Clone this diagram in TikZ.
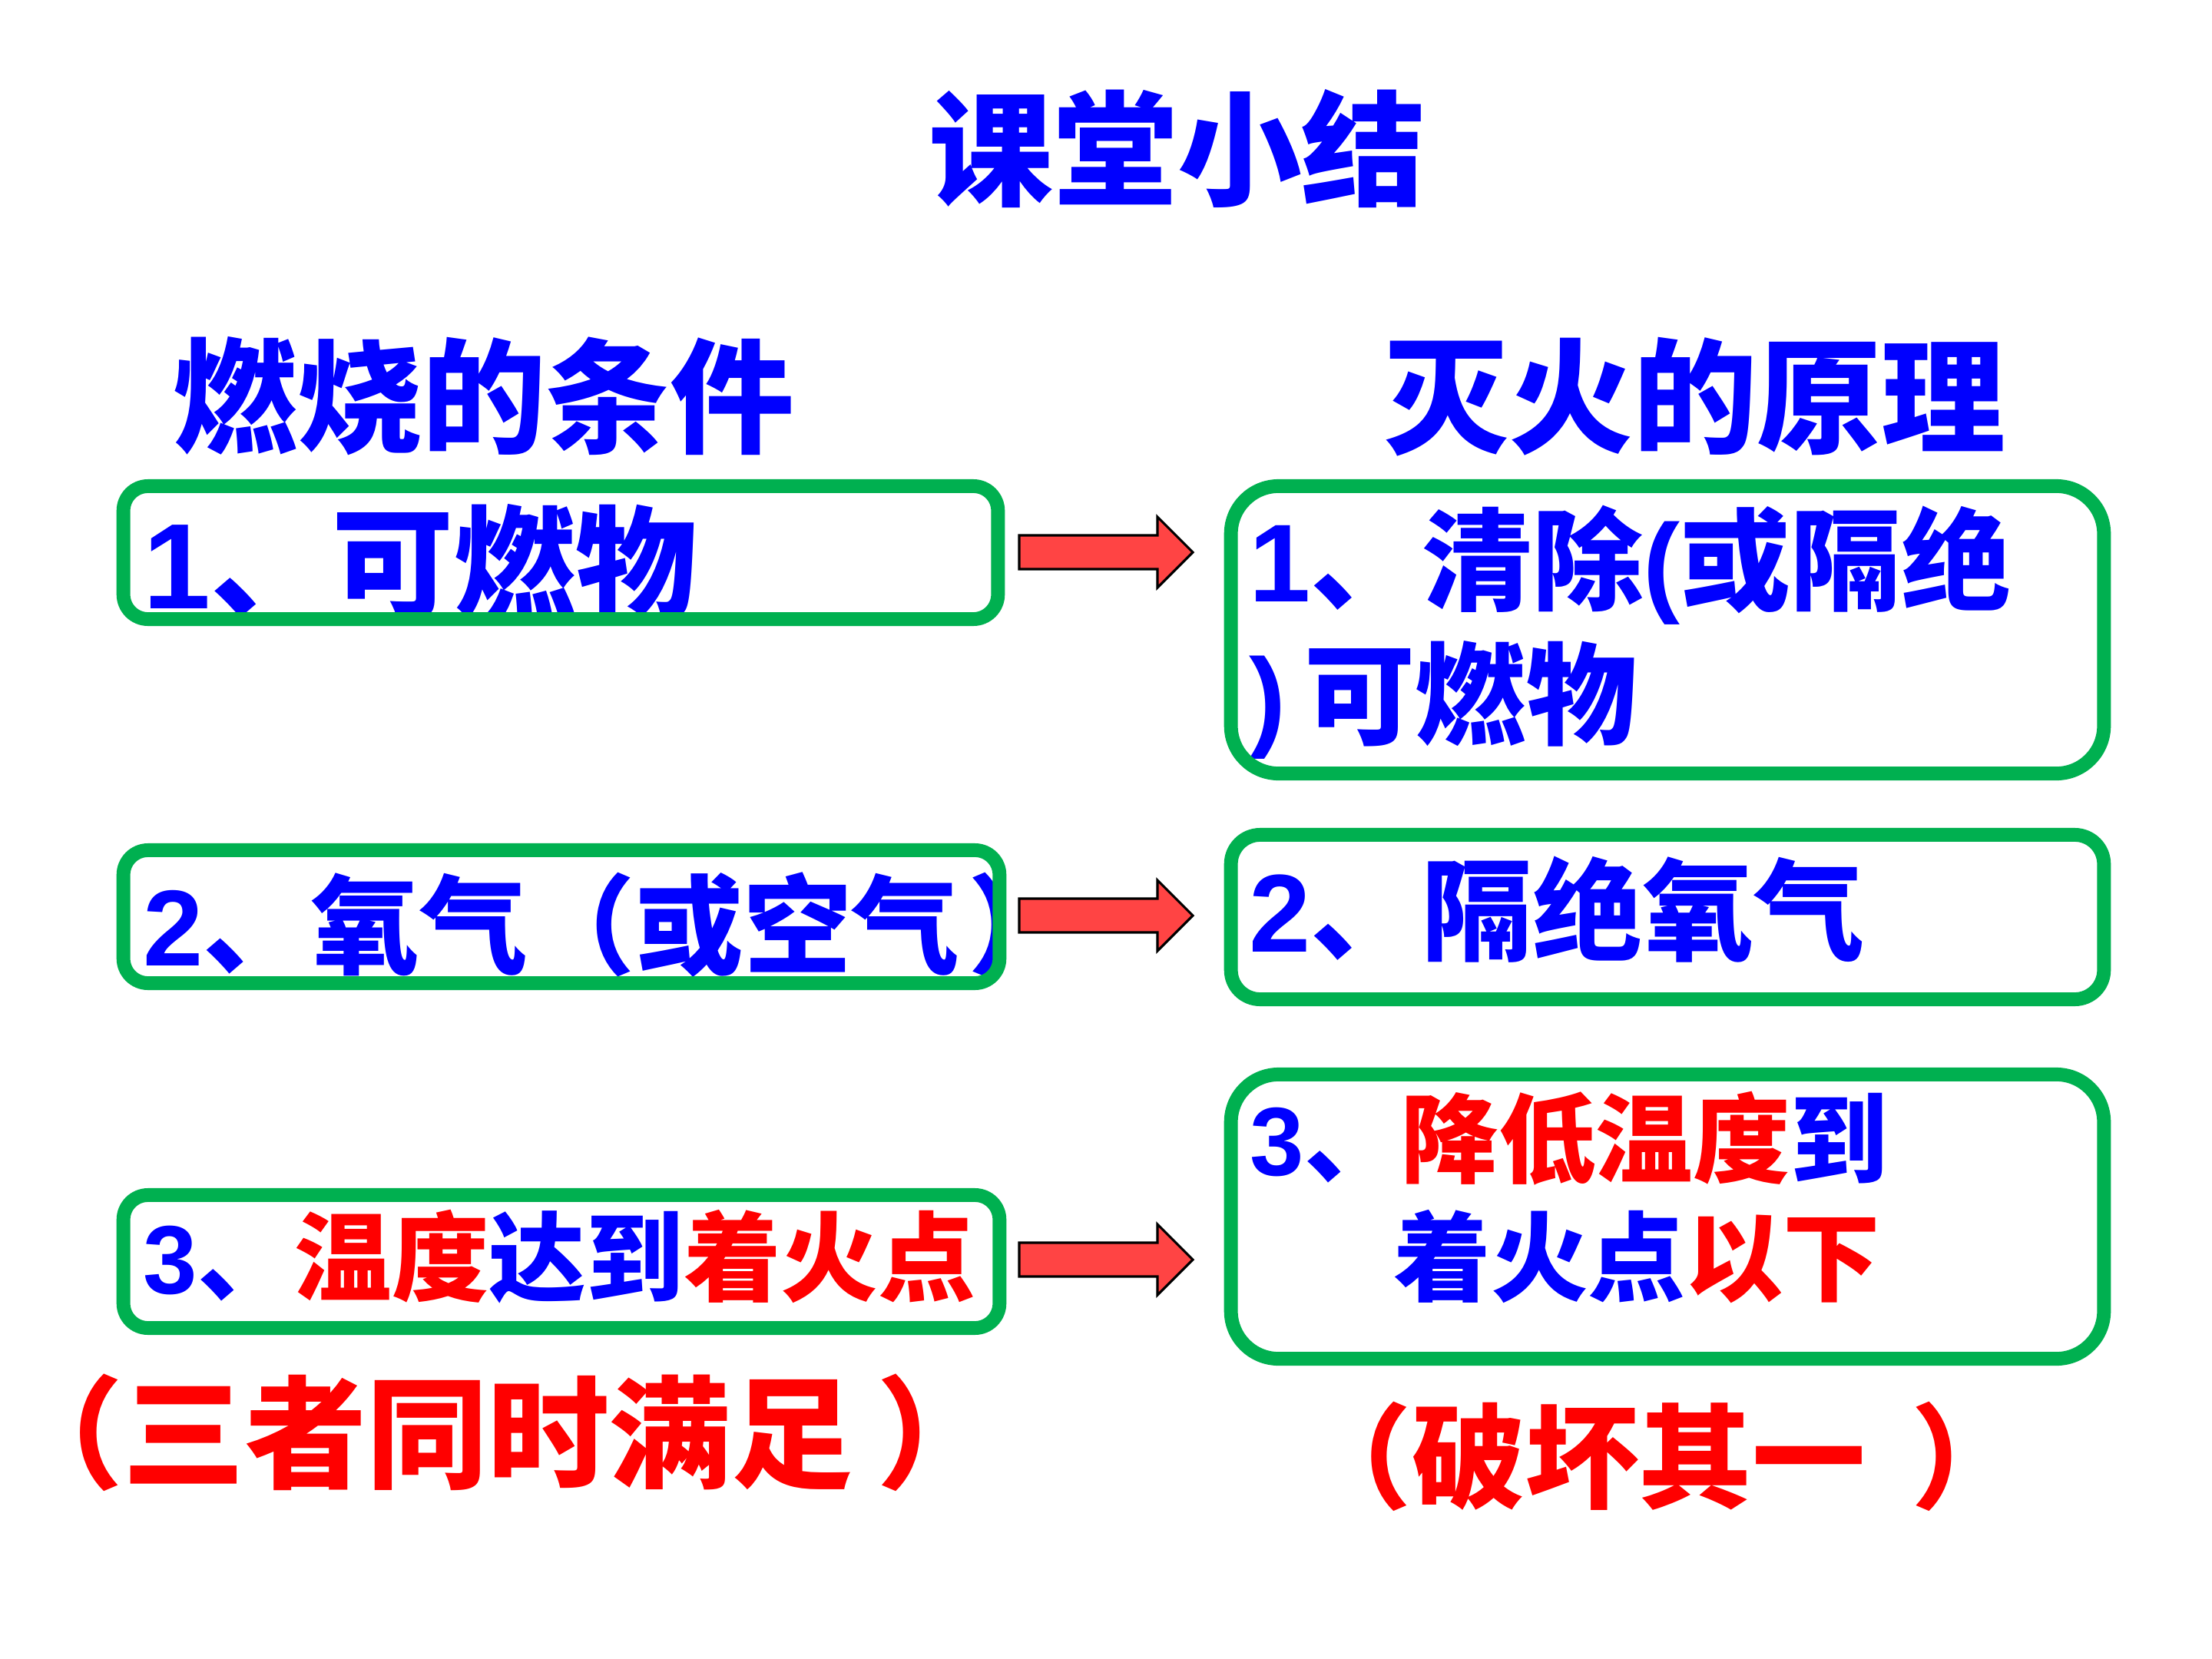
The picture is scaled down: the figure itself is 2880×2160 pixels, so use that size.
\documentclass[tikz,border=0pt]{standalone}
\usepackage{fontspec}
\newfontfamily\cjk{Noto Sans CJK SC}
\newfontfamily\lat{Liberation Sans}
\definecolor{tblue}{RGB}{0,0,255}
\definecolor{tred}{RGB}{255,0,0}
\definecolor{bgreen}{RGB}{0,176,80}
\definecolor{afill}{RGB}{255,68,68}
\newcommand{\fs}[1]{\fontsize{#1}{#1}\selectfont}
\newcommand{\dg}[1]{{\lat\bfseries #1}}
\begin{document}
\begin{tikzpicture}[x=0.01cm,y=-0.01cm,
  txt/.style={inner sep=0pt, anchor=base west, font=\cjk\bfseries, text=tblue},
  ctxt/.style={txt, anchor=base},
  gbox/.style={draw=bgreen, line width=5.1pt, rounded corners=#1, inner sep=0pt},
  barrow/.pic={\draw[line width=0.9pt, fill=afill, line join=miter]
     (-113,-22) -- (67,-22) -- (67,-46) -- (113,0) -- (67,46) -- (67,22) -- (-113,22) -- cycle;}
]
\useasboundingbox[fill=white] (0,0) rectangle (2880,2160);

% titles
\node[ctxt, font=\cjk\bfseries\fs{46pt}] (title) at (1533,255) {课堂小结};
\node[ctxt, font=\cjk\bfseries\fs{46pt}] (h1) at (630,577) {燃烧的条件};
\node[ctxt, font=\cjk\bfseries\fs{46pt}] (h2) at (2207,577) {灭火的原理};

% left texts
\node[txt, font=\cjk\bfseries\fs{45pt}] (l1t) at (186,792) {\dg{1}、可燃物};
\node[txt, font=\cjk\bfseries\fs{40pt}] (l2t) at (186,1257) {\dg{2}、氧气（或空气\hspace{0.08em}）};
\node[txt, font=\cjk\bfseries\fs{36pt}] (l3t) at (186,1684)
  {\dg{3}、\textcolor{tred}{温度}达到\textcolor{tred}{着火点}};

% right texts
\node[txt, font=\cjk\bfseries\fs{41pt}] (r1a) at (1626,783) {\dg{1}、清除\dg{(}或隔绝};
\node[txt, font=\cjk\bfseries\fs{41pt}] (r1b) at (1626,958) {\dg{)}\,可燃物};
\node[txt, font=\cjk\bfseries\fs{41pt}] (r2t) at (1626,1239) {\dg{2}、隔绝氧气};
\node[txt, font=\cjk\bfseries\fs{36pt}] (r3a) at (1627,1530)
  {\dg{3}、\textcolor{tred}{降低温度}到};
\node[txt, font=\cjk\bfseries\fs{36pt}] (r3b) at (1814,1684)
  {着火点\textcolor{tred}{以下}};

% bottom notes
\node[txt, text=tred, font=\cjk\bfseries\fs{45pt}] (n1) at (2,1925) {（三者同时满足\hspace{0.2em}）};
\node[txt, text=tred, font=\cjk\bfseries\fs{42pt}] (n2) at (1690,1952) {（破坏其一\hspace{0.4em}）};

% boxes
\node[gbox=0.32cm, minimum width=11.38cm, minimum height=1.73cm] (L1) at (730,719.5) {};
\node[gbox=0.32cm, minimum width=11.40cm, minimum height=1.73cm] (L2) at (731,1193.5) {};
\node[gbox=0.32cm, minimum width=11.40cm, minimum height=1.73cm] (L3) at (731,1642.5) {};
\node[gbox=0.62cm, minimum width=11.36cm, minimum height=3.74cm] (R1) at (2171,820) {};
\node[gbox=0.38cm, minimum width=11.36cm, minimum height=2.14cm] (R2) at (2171,1194) {};
\node[gbox=0.62cm, minimum width=11.36cm, minimum height=3.70cm] (R3) at (2171,1584) {};

% arrows
\coordinate (A1) at (1440,719);
\coordinate (A2) at (1440,1192);
\coordinate (A3) at (1440,1640);
\pic at (A1) {barrow};
\pic at (A2) {barrow};
\pic at (A3) {barrow};
\end{tikzpicture}
\end{document}
